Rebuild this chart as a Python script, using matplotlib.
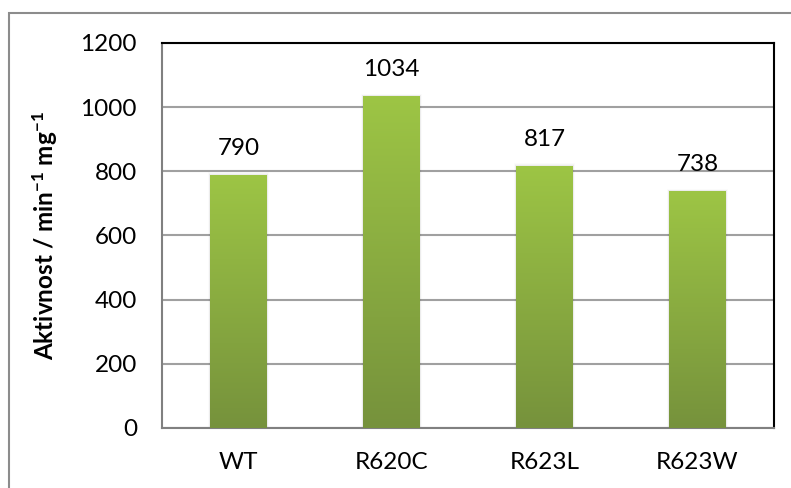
import matplotlib
matplotlib.use("Agg")
import matplotlib.pyplot as plt
import numpy as np
from matplotlib.colors import LinearSegmentedColormap
from matplotlib.patches import Rectangle

categories = ["WT", "R620C", "R623L", "R623W"]
values = [790, 1034, 817, 738]
yticks = [0, 200, 400, 600, 800, 1000, 1200]

plt.rcParams['font.family'] = ['Lato', 'DejaVu Sans']
plt.rcParams['mathtext.fontset'] = 'custom'
plt.rcParams['mathtext.rm'] = 'Lato:bold'
plt.rcParams['mathtext.bf'] = 'Lato:bold'
plt.rcParams['mathtext.default'] = 'bf'

fig = plt.figure(figsize=(7.91, 4.88), dpi=100)
W, H = 791, 488
ax = fig.add_axes([162 / W, 1 - 428 / H, (774 - 162) / W, (428 - 43) / H])

# outer chart border
fig.patches.append(Rectangle((8.5 / W, -0.1), 1.2, 1 - 13.5 / H + 0.1, transform=fig.transFigure,
                             fill=False, edgecolor='#8c8c8c', linewidth=1.5, zorder=0))

FS = 17.5

x = np.arange(len(categories))
width = 0.37
bars = ax.bar(x, values, width=width, color='none', edgecolor='none', zorder=3)

cmap = LinearSegmentedColormap.from_list('g', ['#76923C', '#9DC545'])
grad = np.linspace(0, 1, 256).reshape(-1, 1)
for b in bars:
    x0, y0 = b.get_x(), b.get_y()
    w, h = b.get_width(), b.get_height()
    # soft shadow
    for k, a in enumerate([0.035, 0.025, 0.015]):
        sh = Rectangle((x0 - 0.005 * (k + 1), y0), w + 0.010 * (k + 1), h + 2.5 * (k + 1),
                       facecolor='black', alpha=a, edgecolor='none', zorder=2)
        ax.add_patch(sh)
    im = ax.imshow(grad, cmap=cmap, aspect='auto', origin='lower',
                   extent=[x0, x0 + w, y0, y0 + h], zorder=3)
    im.set_clip_path(b)

for xi, v in zip(x, values):
    ax.annotate(str(v), (xi, v), xytext=(0, 19), textcoords='offset points',
                ha='center', va='center', fontsize=FS, color='black', zorder=5)

ax.set_xlim(-0.5, len(categories) - 0.5)
ax.set_ylim(0, 1200)
ax.set_yticks(yticks)
ax.set_xticks(x)
ax.set_xticklabels(categories)
ax.tick_params(axis='both', length=0, labelsize=FS, colors='black')
ax.tick_params(axis='x', pad=17)
ax.tick_params(axis='y', pad=18)
ax.yaxis.grid(True, color='#a0a0a0', linewidth=1.5, zorder=0)
ax.set_axisbelow(True)

for s in ['top', 'right']:
    ax.spines[s].set_color('black')
    ax.spines[s].set_linewidth(1.5)
for s in ['left', 'bottom']:
    ax.spines[s].set_color('#808080')
    ax.spines[s].set_linewidth(1.5)

ax.set_ylabel(r"Aktivnost / min$^{-1}$ mg$^{-1}$", fontsize=FS, fontweight='bold')
ax.yaxis.set_label_coords((60 - 162) / (774 - 162), 0.5)

fig.savefig("out.png", dpi=100)
